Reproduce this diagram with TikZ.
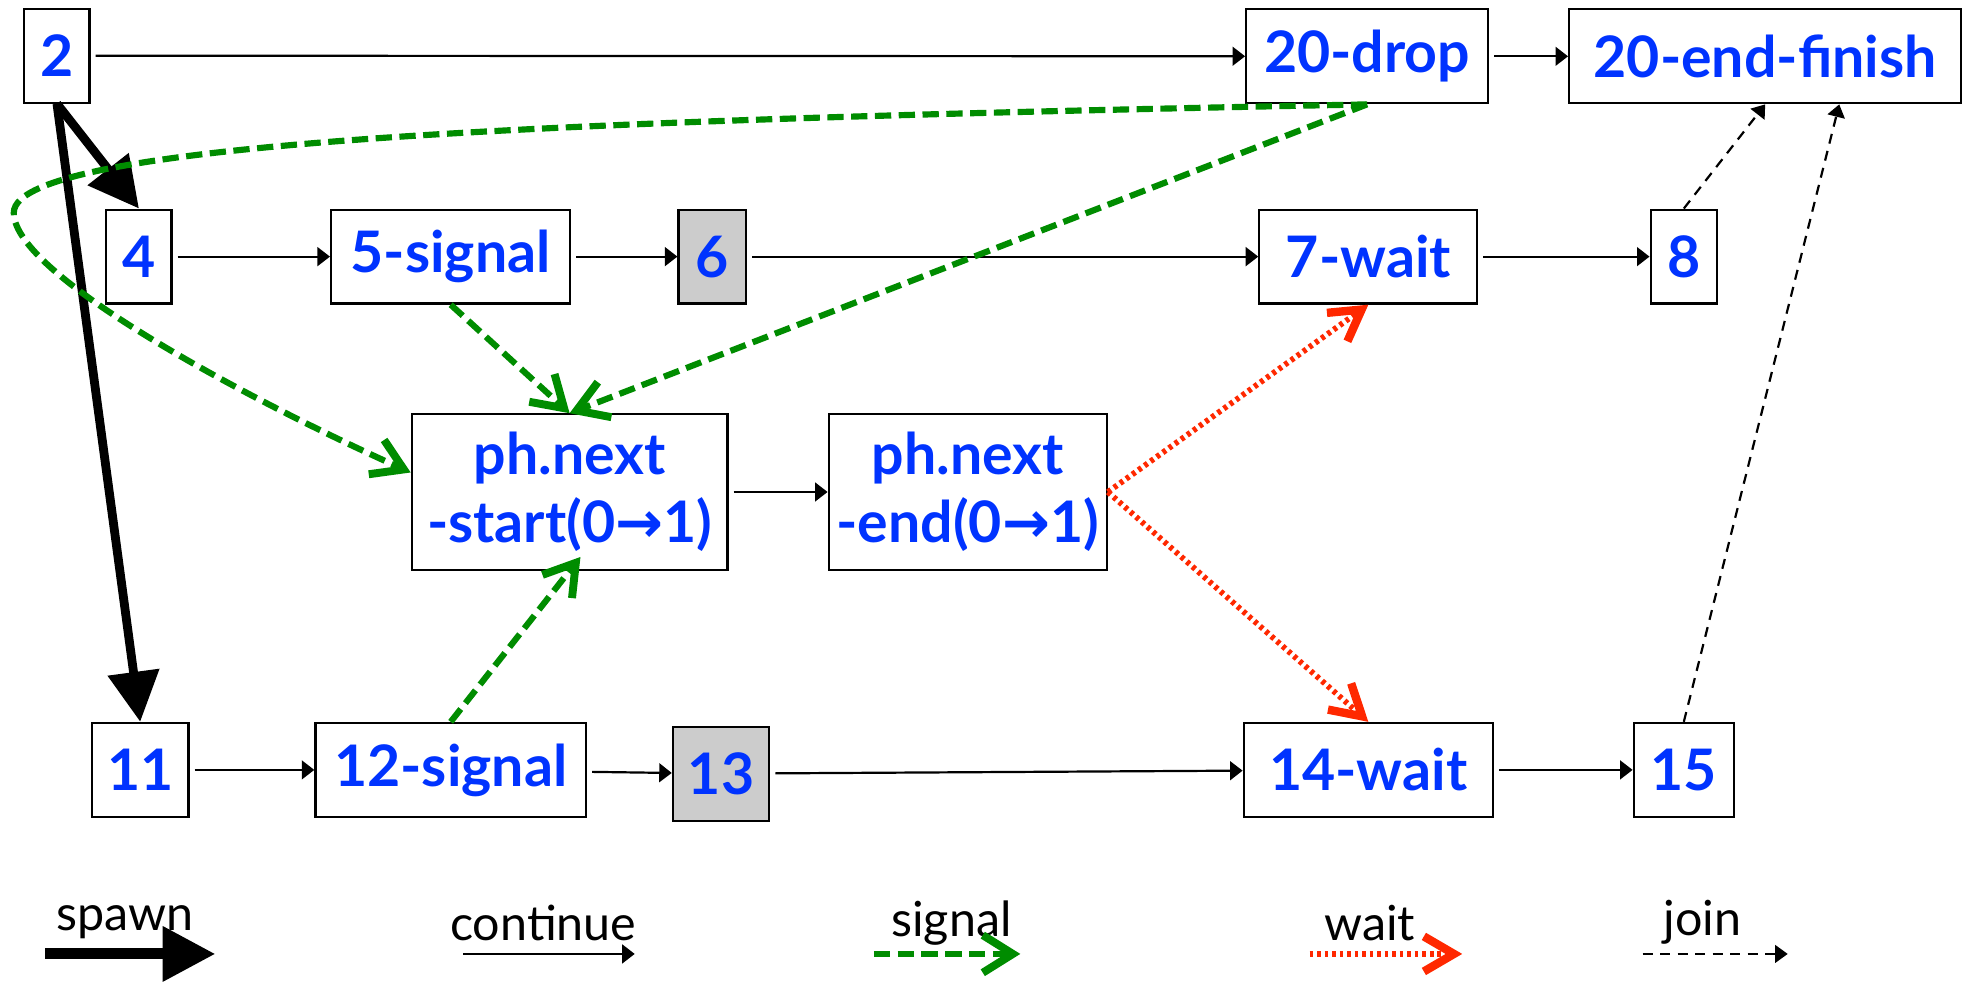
\documentclass[tikz,border=0pt]{standalone}
\usepackage{fontspec}
\setmainfont{Lato}
\newfontfamily\arrowfont{DejaVu Sans}
\usetikzlibrary{arrows.meta}

\definecolor{fgblue}{RGB}{0,51,255}
\definecolor{siggreen}{RGB}{0,140,0}
\definecolor{waitred}{RGB}{255,40,0}
\definecolor{boxgray}{RGB}{204,204,204}

\newcommand{\ra}{{\arrowfont\bfseries →}}

\tikzset{
  box/.style = {draw, line width = 0.5pt, text = fgblue, inner sep = 0pt, minimum height = 0.75cm, align = center, font = \bfseries\fontsize{13}{15.5}\selectfont},
  graybox/.style = {box, fill = boxgray},
  spawnarrow/.style = {line width = 2pt, -{Triangle[length = 0.4cm, width = 0.4cm]}},
  contarrow/.style = {line width = 0.5pt, shorten <= 0.04cm, -{Triangle[length = 0.1cm, width = 0.15cm]}},
  sigarrow/.style = {siggreen, line width = 1.4pt, dash pattern = on 0.13cm off 0.06cm, -{Straight Barb[length = 0.24cm, width = 0.3cm, line width = 1.8pt]}},
  waitarrow/.style = {waitred, line width = 1.3pt, dash pattern = on 0.03cm off 0.03cm, -{Straight Barb[length = 0.24cm, width = 0.28cm, line width = 1.9pt]}},
  joinarrow/.style = {line width = 0.5pt, dash pattern = on 0.08cm off 0.06cm, -{Triangle[length = 0.1cm, width = 0.14cm]}},
  legend/.style = {font = \fontsize{11}{13}\selectfont}
}

\begin{document}
\begin{tikzpicture} [x = 0.01cm, y = -0.01cm]
    \useasboundingbox (0,0) rectangle (1568,786);
    % top row
    \node (n2) [box, minimum width = 0.52cm] at (45.5,44.5) {2};
    \node (drop) [box, minimum width = 1.93cm] at (1092,45) {20-drop};
    \node (finish) [box, minimum width = 3.13cm] at (1410,45) {20-end-finish};
    % second row
    \node (n4) [box, minimum width = 0.52cm] at (111,205) {4};
    \node (sig5) [box, minimum width = 1.91cm] at (360,205) {5-signal};
    \node (n6) [graybox, minimum width = 0.54cm] at (569,205) {6};
    \node (wait7) [box, minimum width = 1.74cm] at (1093,205) {7-wait};
    \node (n8) [box, minimum width = 0.53cm] at (1345,205) {8};
    % phaser
    \node (start) [box, minimum width = 2.52cm, minimum height = 1.24cm] at (455,393) {ph.next\\-start(0\ra 1)};
    \node (endn) [box, minimum width = 2.22cm, minimum height = 1.24cm] at (773,393) {ph.next\\-end(0\ra 1)};
    % bottom row
    \node (n11) [box, minimum width = 0.77cm] at (112,615) {11};
    \node (sig12) [box, minimum width = 2.16cm] at (360,615) {12-signal};
    \node (n13) [graybox, minimum width = 0.77cm] at (576,618) {13};
    \node (wait14) [box, minimum width = 1.99cm] at (1093,615) {14-wait};
    \node (n15) [box, minimum width = 0.80cm] at (1345,615) {15};

    % continue
    \draw [contarrow] (n2) -- (drop);
    \draw [contarrow] (drop) -- (finish);
    \draw [contarrow] (n4) -- (sig5);
    \draw [contarrow] (sig5) -- (n6);
    \draw [contarrow] (n6) -- (wait7);
    \draw [contarrow] (wait7) -- (n8);
    \draw [contarrow] (start) -- (endn);
    \draw [contarrow] (n11) -- (sig12);
    \draw [contarrow] (sig12) -- (n13);
    \draw [contarrow] (n13) -- (wait14);
    \draw [contarrow] (wait14) -- (n15);

    % spawn
    \draw [spawnarrow] (n2.south) -- (n4.north);
    \draw [spawnarrow] (n2.south) -- (n11.north);

    % signal
    \draw [sigarrow] (drop.south) .. controls (500,95) and (11,110) .. (11,170)
        .. controls (11,220) and (200,320) .. (start.173);
    \draw [sigarrow] (drop.south) -- (start.north);
    \draw [sigarrow] (sig5.south) -- (start.north);
    \draw [sigarrow, shorten >= -0.14cm] (sig12.north) -- (start.south);

    % wait
    \draw [waitarrow] (endn.east) -- (wait7.south);
    \draw [waitarrow] (endn.east) -- (wait14.north);

    % join
    \draw [joinarrow] (n8.north) -- (finish.south);
    \draw [joinarrow] (n15.north) -- (finish.327);

    % legend
    \node (lspawn) [legend] at (100,737) {spawn};
    \coordinate (spawnA) at (36,762);
    \coordinate (spawnB) at (172,762);
    \draw [spawnarrow, line width = 2.5pt, -{Triangle[length = 0.42cm, width = 0.42cm]}] (spawnA) -- (spawnB);
    \node (lcont) [legend] at (434,737) {continue};
    \coordinate (contA) at (366,762);
    \coordinate (contB) at (507,762);
    \draw [contarrow] (contA) -- (contB);
    \node (lsig) [legend] at (760,737) {signal};
    \coordinate (sigA) at (698,762);
    \coordinate (sigB) at (815,762);
    \draw [sigarrow] (sigA) -- (sigB);
    \node (lwait) [legend] at (1094,737) {wait};
    \coordinate (waitA) at (1046,762);
    \coordinate (waitB) at (1168,762);
    \draw [waitarrow] (waitA) -- (waitB);
    \node (ljoin) [legend] at (1360,737) {join};
    \coordinate (joinA) at (1312,762);
    \coordinate (joinB) at (1428,762);
    \draw [joinarrow] (joinA) -- (joinB);
\end{tikzpicture}
\end{document}
